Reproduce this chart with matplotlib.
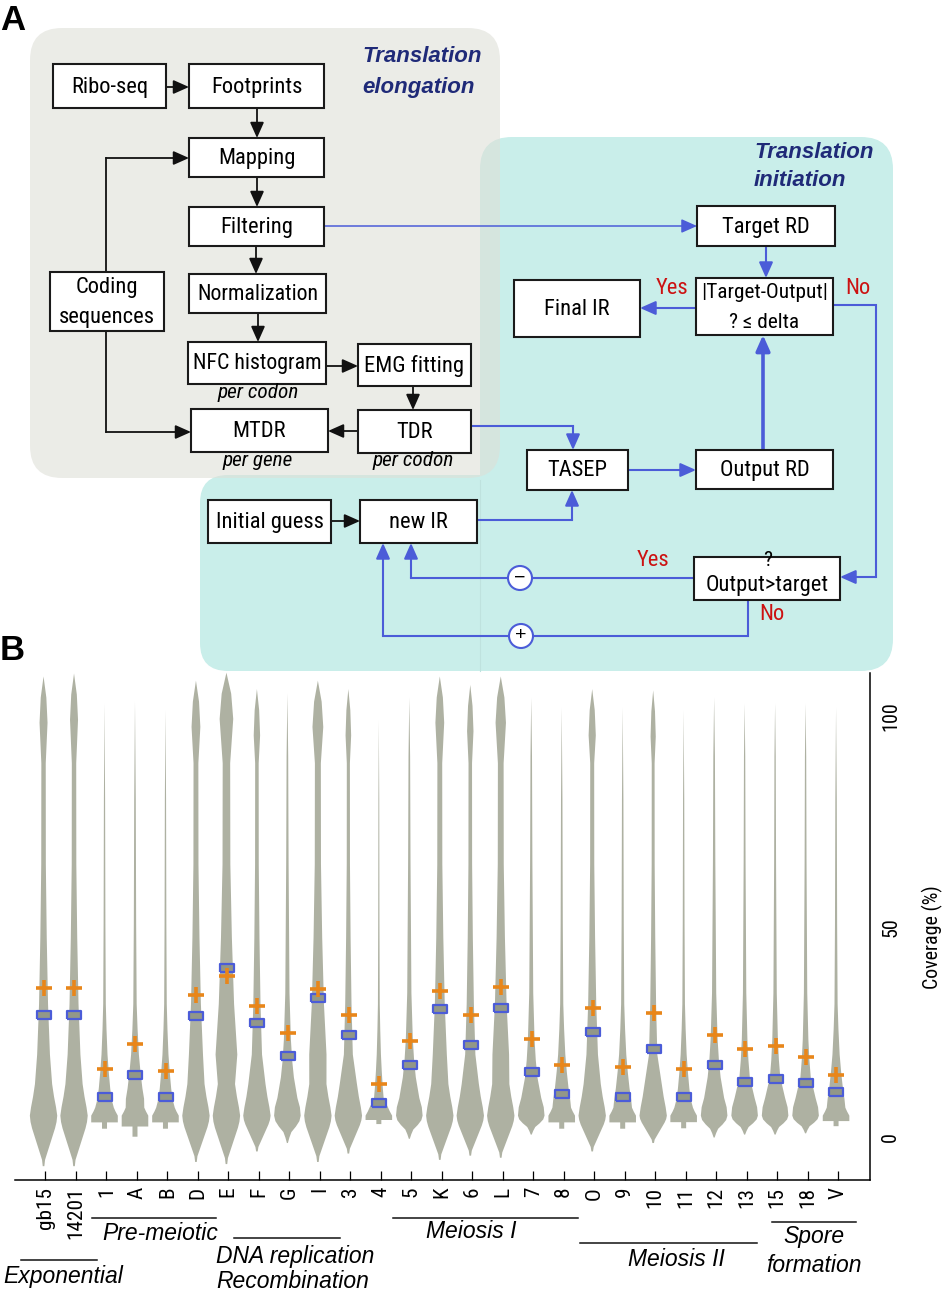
import matplotlib
matplotlib.use('Agg')
import matplotlib.pyplot as plt
from matplotlib import font_manager
from matplotlib.patches import Rectangle, FancyBboxPatch, Circle

# ---------------- panel B data ----------------
samples = ['gb15', '14201', '1', 'A', 'B', 'D', 'E', 'F', 'G', 'I', '3', '4', '5', 'K',
           '6', 'L', '7', '8', 'O', '9', '10', '11', '12', '13', '15', '18', 'V']
cross_vals = [35.6, 35.6, 16.3, 22.3, 15.9, 33.8, 38.4, 31.2, 24.9, 35.3, 29.0, 12.7, 22.9, 34.8,
              29.2, 35.7, 23.4, 17.1, 30.8, 16.8, 29.5, 16.2, 24.3, 20.9, 21.8, 19.0, 14.8]
box_vals = [29.0, 29.2, 9.7, 14.8, 9.5, 28.9, 40.3, 27.3, 19.3, 33.1, 24.3, 8.3, 17.3, 30.4,
            22.0, 30.7, 15.6, 10.3, 25.1, 9.6, 20.9, 9.6, 17.1, 13.2, 13.9, 13.0, 10.7]
violin_top = [109.6, 110.3, 103.2, 103.6, 101.6, 108.6, 110.5, 106.6, 105.6, 108.6, 106.6, 99.2, 104.6, 109.6,
              107.6, 109.6, 104.6, 102.3, 106.6, 102.3, 106.3, 101.6, 104.6, 103.2, 103.2, 103.2, 102.3]
violin_bottom = [-6.7, -6.7, 2.2, 0.3, 2.2, -5.7, -6.2, -3.2, -1.2, -5.7, -3.7, 3.3, -0.2, -5.2,
                 -4.2, -4.7, 0.8, 2.2, -3.2, 2.2, -1.2, 2.3, 0.1, 0.8, 0.8, 1.1, 2.8]
violin_kind = ['thick', 'thick', 'thin', 'thin', 'thin', 'thick', 'thick', 'thick', 'slim', 'thick', 'thick',
               'thin', 'slim', 'thick', 'thick', 'thick', 'slim', 'thin', 'thick', 'thin', 'thick', 'thin',
               'slim', 'slim', 'slim', 'slim', 'thin']
tail_scale = [1.0, 1.0, 1.0, 1.3, 1.0, 1.1, 1.7, 0.8, 1.0, 1.35, 0.7, 0.7, 1.0, 1.1,
              0.8, 1.3, 0.95, 1.2, 0.9, 1.2, 0.65, 1.0, 1.0, 0.8, 0.8, 0.8, 1.2]

# violin outline templates (coverage, half width in px)
templates = {
    'thick': dict(low_v=[-6.7, -5.2, -3.7, -2.2, -0.7, 0.8, 2.3, 3.8, 5.3, 7.3, 9.8, 12.8],
                  low_w=[0.8, 1.5, 3.5, 5.5, 7.5, 9.5, 11.5, 13, 13.7, 12.5, 10.5, 8.6],
                  up_v=[19.8, 31.8, 47.6, 65.0, 89.0], up_w=[6.4, 4.5, 3.2, 2.3, 2.2],
                  tip_dv=[-11, -5, 0], tip_w=[4.0, 2.8, 0]),
    'slim': dict(low_v=[0.3, 1.3, 2.3, 3.3, 4.3, 5.3, 7.3, 9.5],
                 low_w=[0.5, 2, 4, 8.5, 12, 13.3, 12.5, 10],
                 up_v=[14.4, 18.4, 23.4, 34.4, 65.6, 90.6], up_w=[6.5, 4.8, 3.5, 2.1, 1.2, 0.8],
                 tip_dv=[0], tip_w=[0]),
    'thin': dict(low_v=[2.2, 2.2, 3.7, 3.7, 5.3, 6.3, 7.2],
                 low_w=[0, 2.5, 2.5, 13.3, 13.3, 11, 9.3],
                 up_v=[9.3, 11.8, 15.8, 19.8, 25.8, 31.8, 50.8, 80.6],
                 up_w=[7, 5.7, 4.2, 3, 2, 1.3, 0.9, 0.6],
                 tip_dv=[0], tip_w=[0]),
}
PX = 30.5      # pixels per category step
PIVOT = 5.3

# ---------------- fonts ----------------
names = {f.name for f in font_manager.fontManager.ttflist}
NARROW, NK = 'Liberation Sans', 0.84
for cand in ['Liberation Sans Narrow', 'Arial Narrow', 'Roboto Condensed', 'Open Sans Condensed',
             'Nimbus Sans Narrow']:
    if cand in names:
        NARROW, NK = cand, 0.9
        break
plt.rcParams['font.family'] = ['Liberation Sans', 'DejaVu Sans']

BLUE = '#4b5cd8'
RED = '#cc1111'
NAVY = '#1f2a78'
INK = '#111111'

fig = plt.figure(figsize=(9.47, 12.91), dpi=100)

# ---------------- panel A (flow chart, pixel coordinates) ----------------
ax0 = fig.add_axes([0, 0, 1, 1])
ax0.set_xlim(0, 947)
ax0.set_ylim(1291, 0)
ax0.axis('off')

teal = '#c9eeea'
ax0.add_patch(FancyBboxPatch((480, 137), 413, 534, boxstyle='round,pad=0,rounding_size=32',
                             fc=teal, ec='none', zorder=0))
ax0.add_patch(FancyBboxPatch((200, 475), 360, 196, boxstyle='round,pad=0,rounding_size=28',
                             fc=teal, ec='none', zorder=0))
ax0.plot([480, 480], [480, 671], color='#bfe2de', lw=0.8, zorder=0.5)
ax0.add_patch(FancyBboxPatch((30, 28), 470, 450, boxstyle='round,pad=0,rounding_size=32',
                             fc='#dedfd7', alpha=0.58, ec='none', zorder=1))

for txt, x, y in [('Translation', 362, 57), ('elongation', 362, 87),
                  ('Translation', 754, 152), ('initiation', 754, 181)]:
    ax0.text(x, y, txt, color=NAVY, fontsize=16, fontweight='bold',
             fontstyle='italic', ha='left', va='center')

boxes = [
    ('Ribo-seq', 53, 64, 166, 108, 18),
    ('Footprints', 189, 64, 324, 108, 18),
    ('Mapping', 189, 138, 324, 177, 18),
    ('Filtering', 189, 207, 324, 246, 18),
    ('Normalization', 189, 274, 326, 313, 17.5),
    ('Coding\nsequences', 50, 272, 164, 331, 18),
    ('NFC histogram', 188, 342, 326, 384, 17.5),
    ('EMG fitting', 358, 344, 471, 386, 18),
    ('MTDR', 191, 409, 328, 452, 18),
    ('TDR', 358, 410, 471, 453, 18),
    ('Target RD', 697, 206, 835, 246, 18),
    ('|Target-Output|\n? \u2264 delta', 696, 278, 833, 335, 17),
    ('Final IR', 514, 280, 640, 337, 18),
    ('TASEP', 527, 450, 628, 490, 18),
    ('Output RD', 696, 450, 833, 489, 18),
    ('', 694, 557, 840, 600, 18),
    ('Initial guess', 208, 500, 331, 543, 18),
    ('new IR', 360, 500, 477, 543, 18),
]
for txt, x0, y0, x1, y1, fs in boxes:
    ax0.add_patch(Rectangle((x0, y0), x1 - x0, y1 - y0, fc='white', ec='#1a1a1a', lw=1.5, zorder=3))
    lines = txt.split('\n') if txt else []
    yc = (y0 + y1) / 2 + 1
    for k, line in enumerate(lines):
        ax0.text((x0 + x1) / 2, yc + (k - (len(lines) - 1) / 2) * 30, line, family=NARROW,
                 fontsize=fs * NK, ha='center', va='center', zorder=4)
ax0.text(767, 585, 'Output>target', family=NARROW, fontsize=18 * NK, ha='center', va='center', zorder=4)
ax0.text(768, 560, '?', family=NARROW, fontsize=17 * NK, ha='center', va='center', zorder=4)

for txt, x, y in [('per codon', 258, 393), ('per gene', 258, 461), ('per codon', 413, 461)]:
    ax0.text(x, y, txt, family=NARROW, fontstyle='italic', fontsize=17 * NK,
             ha='center', va='center', zorder=4)


def link(pts, color, lw):
    xs = [p[0] for p in pts]
    ys = [p[1] for p in pts]
    if len(pts) > 2:
        ax0.plot(xs[:-1], ys[:-1], color=color, lw=lw, zorder=2, solid_joinstyle='miter')
    ax0.annotate('', xy=pts[-1], xytext=pts[-2], zorder=2,
                 arrowprops=dict(arrowstyle='-|>,head_length=0.45,head_width=0.2', color=color,
                                 lw=lw, shrinkA=0, shrinkB=0, mutation_scale=21))


for pts in [[(166, 87), (189, 87)], [(257, 108), (257, 138)], [(257, 177), (257, 207)],
            [(256, 246), (256, 274)], [(258, 313), (258, 342)], [(326, 366), (358, 366)],
            [(413, 386), (413, 410)], [(358, 431), (328, 431)],
            [(106, 272), (106, 158), (189, 158)], [(106, 331), (106, 432), (191, 432)],
            [(331, 521), (360, 521)]]:
    link(pts, INK, 1.3)

link([(324, 226), (697, 226)], BLUE, 1.1)
for pts in [[(766, 246), (766, 278)], [(696, 308), (640, 308)],
            [(833, 305), (876, 305), (876, 577), (840, 577)],
            [(628, 470), (696, 470)], [(471, 426), (573, 426), (573, 450)],
            [(477, 520), (572, 520), (572, 490)], [(694, 578), (411, 578), (411, 543)],
            [(748, 600), (748, 636), (383, 636), (383, 543)]]:
    link(pts, BLUE, 1.5)
link([(763, 450), (763, 335)], BLUE, 2.6)

for (cx, cy), sign in [((520, 578), '\u2212'), ((521, 636), '+')]:
    ax0.add_patch(Circle((cx, cy), 12, fc='white', ec=BLUE, lw=1.5, zorder=3))
    ax0.text(cx, cy, sign, fontsize=14, ha='center', va='center', zorder=4)

for txt, x, y in [('Yes', 672, 289), ('No', 858, 288), ('Yes', 653, 561), ('No', 772, 614)]:
    ax0.text(x, y, txt, color=RED, family=NARROW, fontsize=18 * NK, ha='center', va='center')

ax0.text(0, 4, 'A', fontsize=25, fontweight='bold', ha='left', va='top')
ax0.text(0, 634, 'B', fontsize=25, fontweight='bold', ha='left', va='top')

# group labels under panel B
for x0, x1, y in [(21, 97, 1260), (92, 216, 1218), (234, 340, 1238), (393, 578, 1218),
                  (580, 757, 1243), (772, 856, 1222)]:
    ax0.plot([x0, x1], [y, y], color=INK, lw=1.1)
for txt, x, y, ha in [('Exponential', 63, 1276, 'center'), ('Pre-meiotic', 160, 1233, 'center'),
                      ('DNA replication', 216, 1256, 'left'), ('Recombination', 216, 1282, 'left'),
                      ('Meiosis I', 471, 1232, 'center'), ('Meiosis II', 676, 1260, 'center'),
                      ('Spore', 814, 1237, 'center'), ('formation', 814, 1265, 'center')]:
    ax0.text(x, y, txt, fontstyle='italic', fontsize=16.5, ha=ha, va='center')

# ---------------- panel B ----------------
ax = fig.add_axes([15 / 947, 1 - 1180 / 1291, 855 / 947, 507 / 1291])
ax.patch.set_visible(False)


def violin_profile(i):
    t = templates[violin_kind[i]]
    s = tail_scale[i]
    b = violin_bottom[i]
    lv = t['low_v']
    v = [PIVOT + (y - PIVOT) * (PIVOT - b) / (PIVOT - lv[0]) if y < PIVOT else y for y in lv]
    w = list(t['low_w'])
    v += t['up_v']
    w += [x * s for x in t['up_w']]
    v += [violin_top[i] + d for d in t['tip_dv']]
    w += [x * s for x in t['tip_w']]
    return v, [x / PX for x in w]


OFF = -0.08
for i in range(len(samples)):
    v, w = violin_profile(i)
    ax.fill_betweenx(v, [i + OFF - x for x in w], [i + OFF + x for x in w],
                     color='#aeb1a2', lw=0, clip_on=False, zorder=1)

xs = [i + OFF + 0.03 for i in range(len(samples))]
rect = [(-1, -0.6), (1, -0.6), (1, 0.6), (-1, 0.6), (-1, -0.6)]
ax.plot(xs, box_vals, ls='none', marker=rect, ms=10.5, mfc='#929788', mec=BLUE, mew=1.6, zorder=3)
ax.plot(xs, cross_vals, ls='none', marker='+', ms=11, mew=2.6, color='#e8861a', zorder=4)

ax.set_xlim(-1, 27.05)
ax.set_ylim(-10.1, 110.3)
for side in ['left', 'top']:
    ax.spines[side].set_visible(False)
for side in ['right', 'bottom']:
    ax.spines[side].set_linewidth(1.1)
ax.set_xticks(range(len(samples)))
ax.set_xticklabels(samples, rotation=90, family=NARROW, fontsize=17 * NK)
ax.tick_params(axis='x', direction='in', length=6.5, width=0.9, pad=5)
ax.yaxis.tick_right()
ax.set_yticks([0, 50, 100])
ax.set_yticklabels(['0', '50', '100'], rotation=90, family=NARROW, fontsize=16 * NK, va='center')
ax.tick_params(axis='y', length=0, pad=8)
ax.yaxis.set_label_position('right')
ax.set_ylabel('Coverage (%)', family=NARROW, fontsize=16 * NK, rotation=90)
ax.yaxis.set_label_coords(1.061, 0.479)

fig.savefig('out.png', dpi=100)
